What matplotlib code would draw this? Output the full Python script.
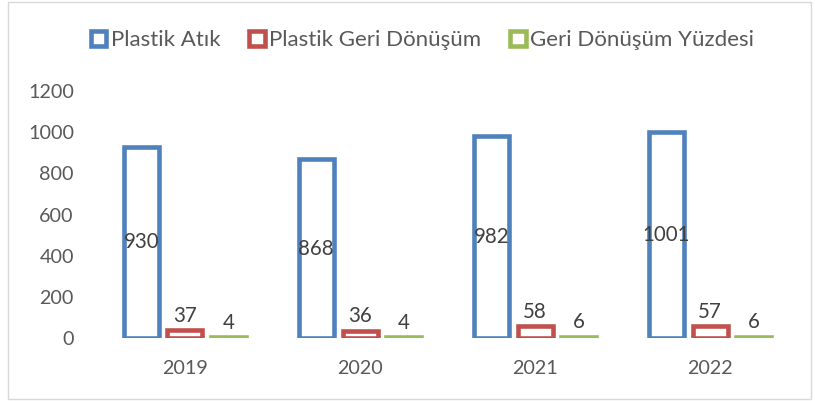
import numpy as np
import matplotlib.pyplot as plt
from matplotlib.patches import Rectangle

years = ["2019", "2020", "2021", "2022"]
plastik_atik = [930, 868, 982, 1001]
geri_donusum = [37, 36, 58, 57]
yuzde = [4, 4, 6, 6]
series_names = ["Plastik Atık", "Plastik Geri Dönüşüm", "Geri Dönüşüm Yüzdesi"]
colors = ["#4f81bd", "#c0504d", "#9bbb59"]

plt.rcParams['font.family'] = ['Lato', 'DejaVu Sans']

fig = plt.figure(figsize=(8.15, 4.01), dpi=100)
ax = fig.add_axes([0.1196, 0.157, 0.859, 0.616])

x = np.arange(len(years))
w = 0.2
offsets = [-0.25, 0.0, 0.25]
all_vals = [plastik_atik, geri_donusum, yuzde]

handles = []
for i, vals in enumerate(all_vals):
    bars = ax.bar(x + offsets[i], vals, width=w, facecolor='white',
                  edgecolor=colors[i], linewidth=3.3, label=series_names[i])
    handles.append(bars)
    for xi, v in zip(x + offsets[i], vals):
        if i == 0:
            ax.text(xi, v / 2, str(v), ha='center', va='center',
                    fontsize=14.8, color='#404040')
        else:
            ax.text(xi, v + 22, str(v), ha='center', va='bottom',
                    fontsize=14.8, color='#404040')

ax.set_xlim(-0.5, 3.5)
ax.set_ylim(0, 1200)
ax.set_yticks(range(0, 1201, 200))
ax.set_xticks(x)
ax.set_xticklabels(years)
ax.tick_params(axis='both', length=0, labelsize=14.2, colors='#595959')
ax.tick_params(axis='y', pad=17)
ax.tick_params(axis='x', pad=16)
for s in ax.spines.values():
    s.set_visible(False)

ax.legend(handles=handles, loc='center', bbox_to_anchor=(0.464, 1.206),
          ncol=3, frameon=False, fontsize=16, labelcolor='#595959',
          handlelength=0.7, handleheight=0.7, handletextpad=0.2,
          columnspacing=1.3, borderaxespad=0)

fig.patches.append(Rectangle((0.01, 0.005), 0.985, 0.99, transform=fig.transFigure,
                             fill=False, edgecolor='#d9d9d9', linewidth=1))

fig.savefig('out.png', dpi=100)
